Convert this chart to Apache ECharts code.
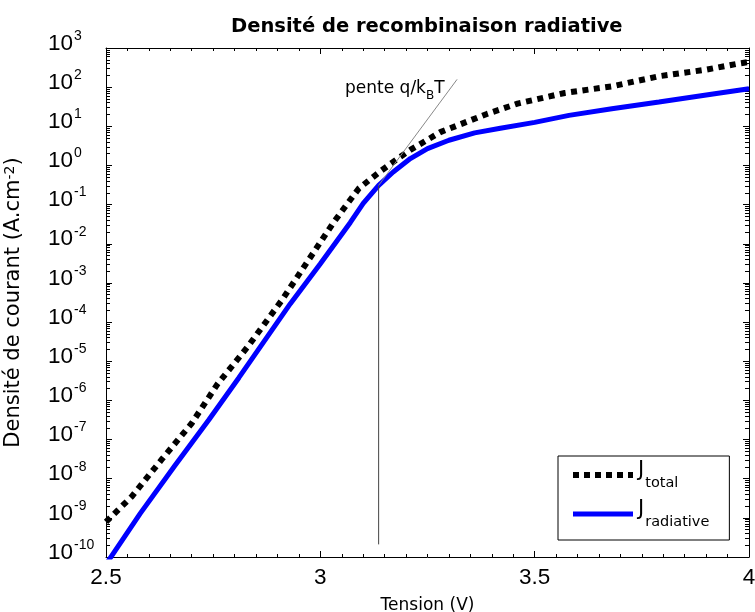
<!DOCTYPE html>
<html><head><meta charset="utf-8">
<script src="https://cdn.jsdelivr.net/npm/echarts@6/dist/echarts.min.js"></script>
<style>html,body{margin:0;padding:0;background:#fff}#c{width:755px;height:612px}</style>
</head><body><div id="c"></div>
<script>
// Tension (V) and current density (A/cm2)
const voltTotal = [2.50, 2.56, 2.63, 2.70, 2.76, 2.83, 2.91, 3.03, 3.06, 3.09, 3.14, 3.18, 3.21, 3.28, 3.39, 3.46, 3.57, 3.68, 3.79, 3.90, 3.975, 4.00];
const jTotal    = [7.9e-10, 3.5e-9, 3.1e-8, 2.6e-7, 2.6e-6, 2.3e-5, 3.6e-4, 3.4e-2, 9.5e-2, 0.26, 0.71, 1.48, 2.5, 7.1, 21, 38, 71, 105, 190, 280, 400, 440];
const voltRad   = [2.50, 2.58, 2.66, 2.74, 2.81, 2.93, 3.00, 3.07, 3.10, 3.136, 3.17, 3.21, 3.25, 3.30, 3.36, 3.42, 3.50, 3.58, 3.68, 3.79, 3.92, 4.00];
const jRad      = [6.5e-11, 1.3e-9, 2.1e-8, 3.2e-7, 3.8e-6, 2.95e-4, 3.1e-3, 3.5e-2, 0.107, 0.31, 0.68, 1.5, 2.7, 4.4, 6.8, 8.9, 12.6, 19, 28, 42, 68, 91];
// annotation guides
const slopeV  = [3.136, 3.319];
const slopeJ  = [0.31, 158];
const markV   = [3.136, 3.136];
const markJ   = [2.1e-10, 0.31];
// axes
const xMin = 2.5, xMax = 4, xStep = 0.5;
const yMin = 1e-10, yMax = 1e3;
const seriesNames = ['total', 'radiative'];
const titleText = 'Densité de recombinaison radiative';
const xName = 'Tension (V)';

const DV = 'DejaVu Sans';
const LS = 'Liberation Sans, Arial, sans-serif';
const minorLog = [];
for (let k = Math.log10(yMin); k < Math.log10(yMax); k++) {
  for (let m = 2; m <= 9; m++) minorLog.push(k + Math.log10(m));
}
const pairs = (xs, ys) => xs.map((v, i) => [v, ys[i]]);
const expLabel = v => '{b|10}{s|' + Math.round(Math.log10(v)) + '}';

const chart = echarts.init(document.getElementById('c'), null, {renderer: 'canvas'});
const mkLine = () => ({show: true, onZero: false, lineStyle: {color: '#000', width: 1}});
const majorX = () => ({show: true, inside: true, length: 6, lineStyle: {color: '#000', width: 1}});
const minorX = () => ({show: true, splitNumber: 10, length: 3, lineStyle: {color: '#000', width: 1}});
const yLogAxis = (pos, labels) => ({
  type: 'log', logBase: 10, min: yMin, max: yMax, interval: 1, position: pos,
  axisLine: mkLine(),
  axisTick: {show: true, inside: true, length: 6, lineStyle: {color: '#000', width: 1}},
  axisLabel: labels ? {
    show: true, align: 'left', margin: 58, formatter: expLabel,
    rich: {
      b: {fontFamily: LS, fontSize: 22.5, color: '#000', lineHeight: 38, verticalAlign: 'top', padding: [3, 0, 0, 0]},
      s: {fontFamily: LS, fontSize: 14, color: '#000', lineHeight: 14, verticalAlign: 'top', padding: [0, 0, 0, 1]}
    }
  } : {show: false},
  splitLine: {show: false}, minorTick: {show: false},
  name: labels ? 'Densité de courant (A.cm{s|-2})' : '',
  nameLocation: 'middle', nameGap: 82, nameRotate: 90,
  nameTextStyle: {fontFamily: DV, fontSize: 21, color: '#000',
    rich: {s: {fontFamily: DV, fontSize: 14, color: '#000', verticalAlign: 'top', lineHeight: 14}}}
});
const yMinorAxis = pos => ({
  type: 'value', min: Math.log10(yMin), max: Math.log10(yMax), position: pos,
  axisLine: {show: false, onZero: false}, axisLabel: {show: false}, splitLine: {show: false},
  axisTick: {show: true, inside: true, length: 4, customValues: minorLog, lineStyle: {color: '#000', width: 1}}
});

chart.setOption({
  animation: false,
  backgroundColor: '#fff',
  title: {text: titleText, left: 226, top: 12,
    textStyle: {fontFamily: DV, fontWeight: 'bold', fontSize: 19.5, color: '#000'}},
  grid: {left: 106, right: 6, top: 48, bottom: 55, containLabel: false, outerBoundsMode: 'none'},
  legend: {
    orient: 'vertical', left: 558, top: 456,
    data: [
      {name: seriesNames[0], itemStyle: {opacity: 0}, lineStyle: {color: '#000', width: 6, type: [6, 5], cap: 'butt'}},
      {name: seriesNames[1], itemStyle: {opacity: 0}, lineStyle: {color: '#0000ff', width: 5, type: 'solid'}}
    ],
    itemWidth: 60, itemHeight: 12, itemGap: 8, padding: [4, 20, 10, 12],
    borderColor: '#000', borderWidth: 1, backgroundColor: '#fff',
    formatter: n => '{j|J}{s|' + n + '}',
    textStyle: {rich: {
      j: {fontFamily: DV, fontSize: 21, color: '#000', lineHeight: 30, verticalAlign: 'top'},
      s: {fontFamily: DV, fontSize: 14.5, color: '#000', lineHeight: 14, verticalAlign: 'top', padding: [16, 0, 0, 1]}
    }}
  },
  xAxis: [
    {type: 'value', min: xMin, max: xMax, interval: xStep, position: 'bottom',
      axisLine: mkLine(), axisTick: majorX(), minorTick: minorX(), splitLine: {show: false}, minorSplitLine: {show: false},
      axisLabel: {show: true, margin: 9, fontFamily: LS, fontSize: 22.5, color: '#000'},
      name: xName, nameLocation: 'middle', nameGap: 40,
      nameTextStyle: {fontFamily: DV, fontSize: 17, color: '#000'}},
    {type: 'value', min: xMin, max: xMax, interval: xStep, position: 'top',
      axisLine: mkLine(), axisTick: majorX(), minorTick: minorX(), splitLine: {show: false},
      axisLabel: {show: false}}
  ],
  yAxis: [yLogAxis('left', true), yMinorAxis('left'), yLogAxis('right', false), yMinorAxis('right')],
  series: [
    {name: seriesNames[0], type: 'line', xAxisIndex: 0, yAxisIndex: 0, data: pairs(voltTotal, jTotal),
      symbol: 'none', showSymbol: false, color: '#000', z: 3,
      lineStyle: {color: '#000', width: 6, type: [6, 5.5], cap: 'butt'}},
    {name: seriesNames[1], type: 'line', xAxisIndex: 0, yAxisIndex: 0, data: pairs(voltRad, jRad),
      symbol: 'none', showSymbol: false, color: '#0000ff', z: 2,
      lineStyle: {color: '#0000ff', width: 5}},
    {name: 'marker', type: 'line', xAxisIndex: 0, yAxisIndex: 0, data: pairs(markV, markJ),
      symbol: 'none', silent: true, z: 4, lineStyle: {color: '#444', width: 1}},
    {name: 'slope', type: 'line', xAxisIndex: 0, yAxisIndex: 0,
      data: slopeV.map((v, i) => i === slopeV.length - 1 ? {value: [v, slopeJ[i]], label: {
        show: true, position: 'left', distance: 12, offset: [0, 9],
        formatter: '{a|pente q/k}{b|B}{a|T}',
        rich: {
          a: {fontFamily: DV, fontSize: 17, color: '#000', lineHeight: 17, verticalAlign: 'top'},
          b: {fontFamily: DV, fontSize: 12, color: '#000', lineHeight: 12, verticalAlign: 'top', padding: [10, 0, 0, 0]}
        }}} : [v, slopeJ[i]]),
      symbol: 'circle', showSymbol: true, symbolSize: 1, itemStyle: {color: 'rgba(0,0,0,0)'},
      silent: true, z: 4, lineStyle: {color: '#888', width: 1}}
  ]
});
</script></body></html>
